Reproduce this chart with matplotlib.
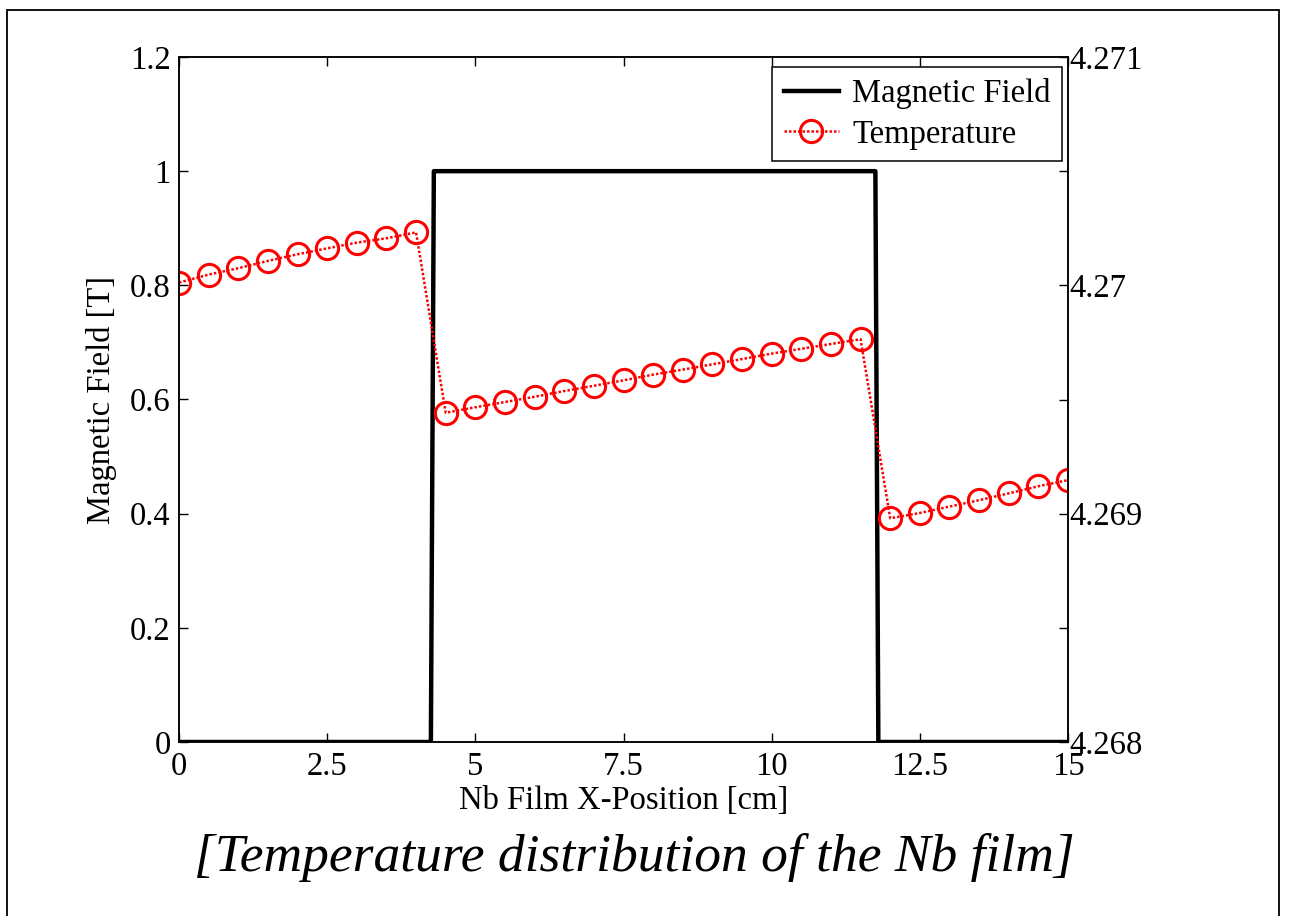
import matplotlib.pyplot as plt
from matplotlib.patches import Rectangle

# magnetic field profile along the film (step)
field_x = [0, 4.25, 4.3, 11.75, 11.8, 15]
field_b = [0, 0, 1, 1, 0, 0]

# temperature sampled every 0.5 cm
temp_x = [0, 0.5, 1, 1.5, 2, 2.5, 3, 3.5, 4,
          4.5, 5, 5.5, 6, 6.5, 7, 7.5, 8, 8.5, 9, 9.5, 10, 10.5, 11, 11.5,
          12, 12.5, 13, 13.5, 14, 14.5, 15]
temp_k = [4.270012, 4.270047, 4.270075, 4.270107, 4.270136, 4.270162, 4.270187, 4.270206, 4.270232,
          4.269442, 4.269466, 4.269489, 4.269512, 4.269537, 4.269560, 4.269584, 4.269609, 4.269631,
          4.269654, 4.269677, 4.269701, 4.269722, 4.269743, 4.269764,
          4.268980, 4.269003, 4.269031, 4.269059, 4.269089, 4.269120, 4.269147]

x_ticks = [0, 2.5, 5, 7.5, 10, 12.5, 15]
x_tick_labels = ['0', '2.5', '5', '7.5', '10', '12.5', '15']
b_ticks = [0, 0.2, 0.4, 0.6, 0.8, 1, 1.2]
b_tick_labels = ['0', '0.2', '0.4', '0.6', '0.8', '1', '1.2']
t_ticks = [4.268, 4.269, 4.27, 4.271]
t_tick_labels = ['4.268', '4.269', '4.27', '4.271']
t_minor = [4.2685, 4.2695, 4.2705]

plt.rcParams['font.family'] = ['Liberation Serif', 'DejaVu Serif']
fs = 23.5

fig = plt.figure(figsize=(13.03, 9.16), dpi=100)
ax = fig.add_axes([179/1303, 174/916, 889/1303, 685/916])
ax2 = ax.twinx()

lb, = ax.plot(field_x, field_b, color='black', lw=3.2, label='Magnetic Field')
lt, = ax2.plot(temp_x, temp_k, color='red', ls=(0, (1, 0.8)), lw=1.8, marker='o', ms=16,
               mfc='none', mec='red', mew=2.2, label='Temperature')

ax.set_xlim(0, 15)
ax.set_ylim(0, 1.2)
ax2.set_ylim(4.268, 4.271)

ax.set_xticks(x_ticks)
ax.set_xticklabels(x_tick_labels)
ax.set_yticks(b_ticks)
ax.set_yticklabels(b_tick_labels)
ax2.set_yticks(t_ticks)
ax2.set_yticklabels(t_tick_labels)
ax2.set_yticks(t_minor, minor=True)

ax.tick_params(axis='x', direction='in', top=True, length=6.5, width=1, labelsize=fs, pad=7)
ax.tick_params(axis='y', direction='in', length=6.5, width=1, labelsize=fs, pad=6)
ax2.tick_params(axis='y', which='both', direction='in', length=6.5, width=1, labelsize=fs, pad=1)
ax2.tick_params(axis='y', which='minor', labelright=False)
for a in (ax, ax2):
    for s in a.spines.values():
        s.set_linewidth(1.1)

ax.set_xlabel('Nb Film X-Position [cm]', fontsize=fs, labelpad=2)
ax.set_ylabel('Magnetic Field [T]', fontsize=fs, labelpad=9)

leg = ax2.legend(handles=[lb, lt], loc='upper right', bbox_to_anchor=(0.9933, 0.9854),
                 borderaxespad=0, fontsize=fs, fancybox=False, edgecolor='black',
                 framealpha=1, handlelength=1.7, handletextpad=0.4, labelspacing=0.3,
                 borderpad=0.35)
leg.get_frame().set_linewidth(1.1)

fig.text(634/1303, 1 - 857/916, '[Temperature distribution of the Nb film]',
         fontsize=38.5, style='italic', ha='center', va='center')

# outer frame around the figure
fig.patches.append(Rectangle((7/1303, -0.05), 1272/1303, 1.05 - 10/916,
                             transform=fig.transFigure, fill=False,
                             edgecolor='black', lw=1.3))

fig.savefig('out.png', dpi=100)
